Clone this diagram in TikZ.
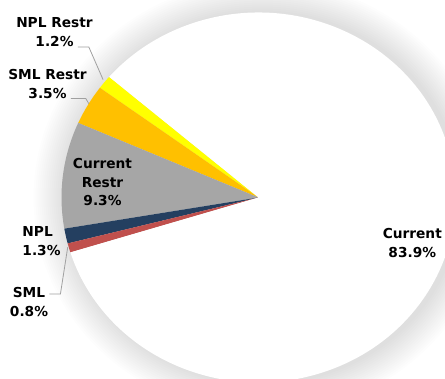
\documentclass[tikz,border=0pt]{standalone}
\usepackage{fontspec}
\setmainfont{DejaVu Sans}
\usetikzlibrary{positioning}
\definecolor{nplrestr}{HTML}{FFFF00}
\definecolor{smlrestr}{HTML}{FFC000}
\definecolor{currestr}{HTML}{A6A6A6}
\definecolor{nplcol}{HTML}{243F60}
\definecolor{smlcol}{HTML}{C0504D}
\definecolor{leadergray}{HTML}{A0A0A0}
\begin{document}
\begin{tikzpicture}[x=0.75pt,y=-0.75pt]
  \tikzstyle{lbl}=[font=\fontsize{10.3}{13.8}\selectfont\bfseries,inner xsep=3pt,inner ysep=0pt,text height=7.5pt,text depth=0pt]
  \tikzstyle{txt}=[font=\fontsize{10.3}{13.8}\selectfont\bfseries,inner sep=0pt,align=center]
  \tikzstyle{leader}=[draw=leadergray,line width=0.6pt]
  \useasboundingbox (0,0) rectangle (445,378);
  \clip (0,0) rectangle (445,378);
  \fill[white] (0,0) rectangle (445,378);
  \coordinate (c) at (258.5,197.5);
  % soft shadow round the pie
  \foreach \s in {16,15,...,1}
    \fill[black,opacity=0.009] ([xshift=3pt]c) ellipse [x radius={147.75pt+1.5pt*\s}, y radius={138.75pt+1.5pt*\s}];
  % slices
  \foreach \from/\to/\col in {139.3/143.62/nplrestr,143.62/156.22/smlrestr,156.22/189.70/currestr,
                               189.70/194.38/nplcol,194.38/197.26/smlcol,197.26/499.3/white}
    \fill[\col] (c) -- ++(\from:147.75pt and 138.75pt) arc[start angle=\from, end angle=\to, x radius=147.75pt, y radius=138.75pt] -- cycle;
  \begin{scope}
  \node[lbl,anchor=base] (nplrval) at (54.5,46.7) {1.2\%};
  \node[lbl,above=6.3pt of nplrval] (nplrname) {NPL Restr};
  \node[lbl,anchor=base] (smlrval) at (47.5,98.3) {3.5\%};
  \node[lbl,above=6.3pt of smlrval] (smlrname) {SML Restr};
  \node[txt] (currlab) at (102.5,182) {Current\\Restr\\9.3\%};
  \node[lbl,anchor=base] (nplval) at (41.5,255.7) {1.3\%};
  \node[lbl,above=6.3pt of nplval.north west,anchor=south west] (nplname) {NPL};
  \node[lbl,anchor=base] (smlval) at (29,316.7) {0.8\%};
  \node[lbl,above=6.3pt of smlval] (smlname) {SML};
  \node[txt] (curlab) at (412.3,243) {Current\\83.9\%};
  \end{scope}
  % leader lines
  \path (c) ++(141:150pt and 140.5pt) coordinate (nplrtip);
  \path (c) ++(149.5:147.75pt and 138.75pt) coordinate (smlrtip);
  \path (c) ++(195.5:148.5pt and 139.5pt) coordinate (smltip);
  \draw[leader] (nplrval.south east) -- ++(11,0) -- (nplrtip);
  \draw[leader] (smlrval.south east) -- ++(15,0) -- (smlrtip);
  \draw[leader] ([yshift=3pt]smlname.south east) -- ++(11,0) -- (smltip);
\end{tikzpicture}
\end{document}
